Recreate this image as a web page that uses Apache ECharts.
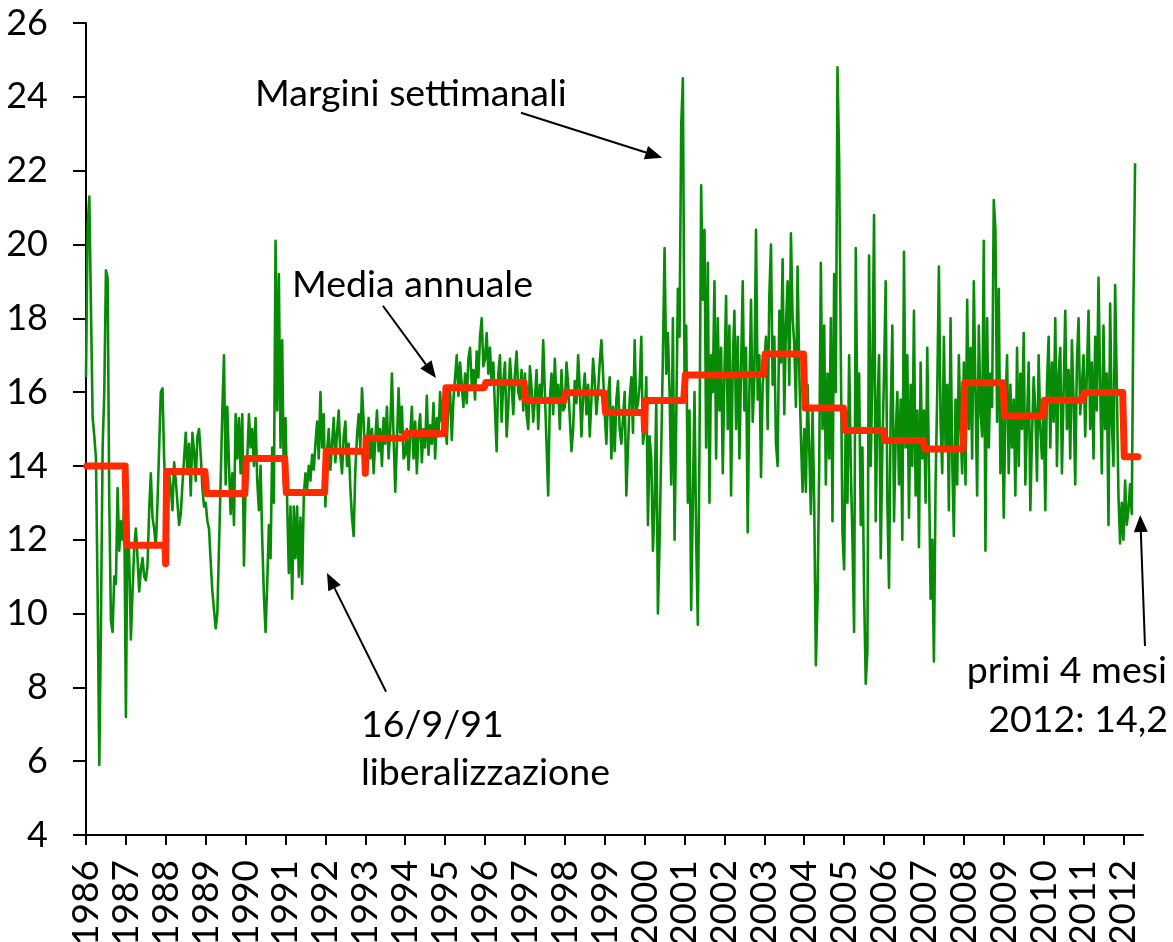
<!DOCTYPE html>
<html>
<head>
<meta charset="utf-8">
<script src="https://cdn.jsdelivr.net/npm/echarts@6/dist/echarts.min.js"></script>
<style>
    html, body { margin: 0; padding: 0; background: #fff; }
    #chart { width: 1173px; height: 942px; }
</style>
</head>
<body>
<div id="chart"></div>
<script>
// anni sull'asse x
const anni = [1986, 1987, 1988, 1989, 1990, 1991, 1992, 1993, 1994, 1995, 1996, 1997, 1998, 1999,
    2000, 2001, 2002, 2003, 2004, 2005, 2006, 2007, 2008, 2009, 2010, 2011, 2012];

// media annuale (linea rossa)
const mediaAnnuale = [14.0, 11.85, 13.85, 13.25, 14.2, 13.28, 14.4, 14.75, 14.88, 16.12, 16.26, 15.77, 15.98, 15.45,
    15.77, 16.46, 16.48, 17.03, 15.57, 14.96, 14.69, 14.46, 16.25, 15.35, 15.78, 15.99, 14.25];
// singole settimane anomale della media (a cavallo d'anno)
const scartiMedia = [[1987.995, 11.35], [1993.0, 13.8], [2000.0, 14.97]];

// margini settimanali letti a passo quindicinale (24 valori per anno, 2012 solo primi 4 mesi)
const margini = [
    /*1986*/ [16.4, 20.5, 21.3, 18.2, 15.3, 14.8, 14.2, 10.5, 5.9, 9.8, 14.5, 16.0, 19.3, 19.1, 13.0, 9.8, 9.5, 11.0, 10.8, 13.4, 11.7, 12.5, 12.0, 13.0],
    /*1987*/ [7.2, 12.9, 11.5, 9.3, 10.6, 11.8, 12.3, 11.5, 10.6, 11.2, 11.5, 11.0, 10.9, 11.3, 12.8, 13.8, 12.6, 12.3, 11.8, 13.0, 14.5, 16.0, 16.1, 14.2],
    /*1988*/ [13.0, 12.5, 13.8, 13.4, 12.8, 14.1, 13.6, 13.0, 12.4, 12.7, 13.5, 14.2, 14.9, 13.8, 14.6, 13.2, 14.9, 14.4, 13.6, 14.8, 15.0, 14.3, 13.4, 12.9],
    /*1989*/ [13.0, 12.5, 12.3, 11.4, 10.6, 10.1, 9.6, 10.0, 11.8, 13.6, 15.5, 17.0, 13.5, 15.6, 14.0, 12.7, 13.8, 12.4, 15.4, 14.2, 15.3, 13.8, 15.4, 11.3],
    /*1990*/ [13.5, 14.2, 15.4, 14.5, 15.0, 14.0, 15.3, 13.6, 12.8, 14.0, 12.0, 10.5, 9.5, 10.8, 12.4, 11.5, 14.5, 13.0, 20.1, 15.5, 19.2, 14.5, 17.4, 13.5],
    /*1991*/ [15.3, 13.0, 11.1, 12.9, 10.4, 12.9, 11.5, 12.9, 11.0, 12.6, 10.8, 13.2, 13.8, 13.4, 14.0, 13.6, 14.3, 13.9, 14.6, 15.2, 14.2, 16.0, 14.5, 15.4],
    /*1992*/ [12.9, 14.4, 15.0, 13.9, 14.6, 15.3, 14.1, 14.9, 15.5, 14.3, 13.8, 14.8, 15.2, 14.0, 14.6, 13.4, 12.6, 12.1, 13.9, 14.8, 15.4, 14.5, 16.1, 15.2],
    /*1993*/ [13.9, 14.6, 15.3, 14.2, 15.0, 13.8, 14.7, 15.5, 14.4, 15.0, 14.0, 15.3, 14.6, 15.6, 14.2, 15.0, 16.5, 14.8, 13.3, 14.6, 16.1, 14.9, 15.6, 14.2],
    /*1994*/ [14.3, 15.0, 13.9, 14.8, 15.6, 14.2, 15.2, 13.8, 14.9, 15.4, 14.1, 15.0, 14.5, 15.9, 14.3, 15.1, 14.6, 15.7, 14.2, 15.3, 14.8, 16.0, 15.2, 15.8],
    /*1995*/ [15.2, 14.6, 15.7, 16.0, 14.7, 15.8, 16.4, 17.0, 15.9, 16.8, 16.2, 15.6, 16.5, 15.7, 16.9, 17.2, 16.2, 16.6, 15.8, 17.1, 16.4, 17.5, 18.0, 16.7],
    /*1996*/ [16.9, 17.6, 16.5, 17.2, 16.2, 16.8, 15.5, 14.4, 16.5, 17.0, 15.2, 16.3, 16.8, 14.8, 15.6, 16.9, 16.2, 15.4, 16.5, 17.1, 16.0, 15.8, 16.6, 15.5],
    /*1997*/ [16.5, 15.4, 15.0, 16.7, 16.1, 15.2, 15.8, 16.6, 15.0, 16.2, 15.8, 17.4, 16.0, 14.6, 13.2, 15.8, 16.5, 15.4, 16.9, 15.7, 16.2, 15.0, 16.6, 15.5],
    /*1998*/ [15.6, 16.8, 16.2, 15.3, 14.4, 15.0, 16.3, 15.7, 17.0, 16.1, 14.8, 15.9, 16.5, 15.4, 16.2, 14.8, 15.8, 16.9, 16.3, 15.4, 16.0, 16.8, 17.4, 16.5],
    /*1999*/ [15.4, 14.6, 15.9, 16.4, 14.2, 15.6, 14.4, 15.8, 16.3, 15.0, 14.6, 15.3, 16.0, 13.2, 14.5, 15.8, 16.4, 14.9, 17.4, 15.5, 15.7, 16.2, 17.5, 14.6],
    /*2000*/ [15.0, 16.4, 12.4, 14.8, 14.2, 11.7, 13.0, 15.8, 10.0, 12.0, 14.5, 17.0, 19.9, 16.5, 17.6, 16.0, 13.5, 18.0, 12.0, 15.2, 18.8, 17.5, 23.2, 24.5],
    /*2001*/ [16.5, 17.8, 13.0, 15.5, 10.1, 13.0, 16.0, 12.0, 9.7, 14.5, 21.6, 18.5, 20.4, 14.5, 19.5, 13.0, 17.0, 16.0, 19.0, 14.2, 18.0, 15.5, 17.2, 13.8],
    /*2002*/ [16.5, 18.6, 15.0, 17.8, 13.2, 16.8, 18.2, 15.0, 17.5, 14.2, 16.6, 19.0, 15.5, 17.2, 12.2, 16.0, 18.5, 15.2, 16.4, 20.4, 15.8, 17.0, 13.7, 16.2],
    /*2003*/ [16.8, 17.5, 15.0, 18.6, 20.0, 16.2, 17.5, 14.6, 14.0, 18.2, 16.8, 19.6, 15.4, 17.8, 19.0, 16.2, 20.3, 18.0, 17.3, 15.6, 19.4, 16.6, 14.8, 13.3],
    /*2004*/ [15.0, 13.3, 16.2, 14.5, 12.7, 15.5, 13.0, 8.6, 10.4, 14.0, 19.5, 15.0, 17.8, 13.5, 16.5, 14.2, 18.0, 12.5, 19.2, 16.0, 24.8, 22.3, 17.0, 12.2],
    /*2005*/ [11.2, 15.5, 13.0, 17.0, 14.0, 12.0, 9.5, 19.9, 15.0, 16.5, 12.4, 14.5, 10.6, 8.1, 9.0, 19.7, 14.0, 16.5, 20.8, 12.5, 15.5, 17.0, 11.5, 14.5],
    /*2006*/ [16.5, 19.0, 13.0, 10.7, 15.5, 17.8, 12.5, 14.8, 16.0, 13.5, 15.8, 12.0, 19.8, 14.5, 17.0, 12.6, 16.2, 14.0, 18.2, 13.2, 15.5, 11.8, 16.8, 14.2],
    /*2007*/ [15.5, 13.0, 17.2, 14.0, 10.4, 12.0, 8.7, 13.5, 16.0, 19.4, 15.2, 13.8, 17.5, 14.5, 16.2, 12.8, 18.0, 14.2, 12.1, 15.8, 13.5, 17.0, 15.0, 13.8],
    /*2008*/ [16.8, 13.5, 18.5, 15.0, 17.2, 14.2, 19.0, 16.0, 13.2, 17.8, 15.5, 14.8, 20.1, 11.7, 18.0, 14.5, 16.5, 15.6, 21.2, 20.4, 15.2, 18.8, 13.8, 16.2],
    /*2009*/ [12.6, 15.5, 17.0, 13.8, 16.2, 14.5, 15.8, 13.2, 17.2, 14.0, 16.5, 15.0, 17.6, 13.5, 15.2, 16.8, 12.8, 14.8, 16.4, 15.5, 13.6, 17.0, 15.0, 14.2],
    /*2010*/ [15.5, 12.8, 16.2, 17.5, 14.5, 16.8, 15.2, 18.0, 14.0, 16.5, 17.2, 13.8, 16.0, 18.2, 15.0, 16.6, 14.2, 17.4, 15.8, 13.5, 16.8, 18.0, 15.4, 16.2],
    /*2011*/ [17.0, 14.8, 16.5, 18.2, 15.0, 16.8, 14.2, 17.5, 15.5, 19.1, 16.2, 13.8, 17.8, 15.0, 16.5, 12.4, 18.4, 15.2, 14.0, 18.9, 16.2, 13.2, 11.9, 13.0],
    /*2012*/ [12.0, 13.6, 12.4, 12.8, 13.5, 12.7, 18.4, 22.2]
];

// annotazioni: testo e frecce (frecce in coordinate dei dati: da [x,y] a punta [x,y])
const testi = [
    { t: 'Margini settimanali', x: 255, y: 94, align: 'left' },
    { t: 'Media annuale', x: 292, y: 285, align: 'left' },
    { t: '16/9/91', x: 361, y: 725, align: 'left' },
    { t: 'liberalizzazione', x: 361, y: 773, align: 'left' },
    { t: 'primi 4 mesi', x: 1167, y: 671, align: 'right' },
    { t: '2012: 14,2', x: 1168, y: 720, align: 'right' }
];
const frecce = [
    [1996.90, 23.57, 2000.44, 22.35],
    [1993.44, 18.34, 1994.77, 16.38],
    [1993.52, 7.88, 1992.04, 11.10],
    [2012.54, 9.12, 2012.42, 12.67]
];

var puntiMargini = [];
margini.forEach(function (valori, i) {
    valori.forEach(function (v, k) {
        puntiMargini.push([anni[i] + k / 24, v]);
    });
});

var puntiMedia = [];
mediaAnnuale.forEach(function (v, i) {
    var fine = (i === mediaAnnuale.length - 1) ? 0.36 : 0.98;
    puntiMedia.push([anni[i] + 0.02, v], [anni[i] + fine, v]);
});
puntiMedia = puntiMedia.concat(scartiMedia).sort(function (a, b) { return a[0] - b[0]; });

var font = 'Lato, "Open Sans", sans-serif';
var nero = { color: '#000', width: 2 };

var chart = echarts.init(document.getElementById('chart'));
chart.setOption({
    animation: false,
    backgroundColor: '#fff',
    grid: { left: 86, right: 30, top: 23, bottom: 107, outerBoundsMode: 'none' },
    xAxis: {
        type: 'value', min: 1986, max: 2012.49,
        axisLine: { show: true, onZero: false, lineStyle: nero },
        axisTick: { show: true, length: 10, customValues: anni, lineStyle: nero },
        axisLabel: {
            customValues: anni, rotate: 90, margin: 25, fontSize: 37, fontFamily: font, color: '#000',
            formatter: function (v) { return String(Math.round(v)); }
        },
        splitLine: { show: false }
    },
    yAxis: {
        type: 'value', min: 4, max: 26, interval: 2,
        axisLine: { show: true, lineStyle: nero },
        axisTick: { show: true, length: 13, lineStyle: nero },
        axisLabel: { margin: 38, fontSize: 36, fontFamily: font, color: '#000' },
        splitLine: { show: false }
    },
    series: [
        {
            name: 'Margini settimanali', type: 'line', data: puntiMargini, symbol: 'none',
            lineStyle: { color: '#088c08', width: 2.6, join: 'round' }, z: 2
        },
        {
            name: 'Media annuale', type: 'line', data: puntiMedia, symbol: 'none',
            lineStyle: { color: '#ff2a00', width: 7, cap: 'round', join: 'round' }, z: 3
        }
    ]
});

// testi e frecce come grafica
var grafica = [];
testi.forEach(function (d) {
    grafica.push({
        type: 'text', z: 10,
        style: { text: d.t, x: d.x, y: d.y, align: d.align, verticalAlign: 'middle', font: '37.5px ' + font, fill: '#000' }
    });
});
frecce.forEach(function (f) {
    var a = chart.convertToPixel({ gridIndex: 0 }, [f[0], f[1]]);
    var b = chart.convertToPixel({ gridIndex: 0 }, [f[2], f[3]]);
    var dx = b[0] - a[0], dy = b[1] - a[1];
    var len = Math.sqrt(dx * dx + dy * dy);
    var ux = dx / len, uy = dy / len;
    var base = [b[0] - ux * 17, b[1] - uy * 17];
    grafica.push({
        type: 'line', z: 10,
        shape: { x1: a[0], y1: a[1], x2: base[0], y2: base[1] },
        style: { stroke: '#000', lineWidth: 2 }
    });
    grafica.push({
        type: 'polygon', z: 10,
        shape: { points: [b, [base[0] - uy * 7, base[1] + ux * 7], [base[0] + uy * 7, base[1] - ux * 7]] },
        style: { fill: '#000' }
    });
});
chart.setOption({ graphic: grafica });
</script>
</body>
</html>
